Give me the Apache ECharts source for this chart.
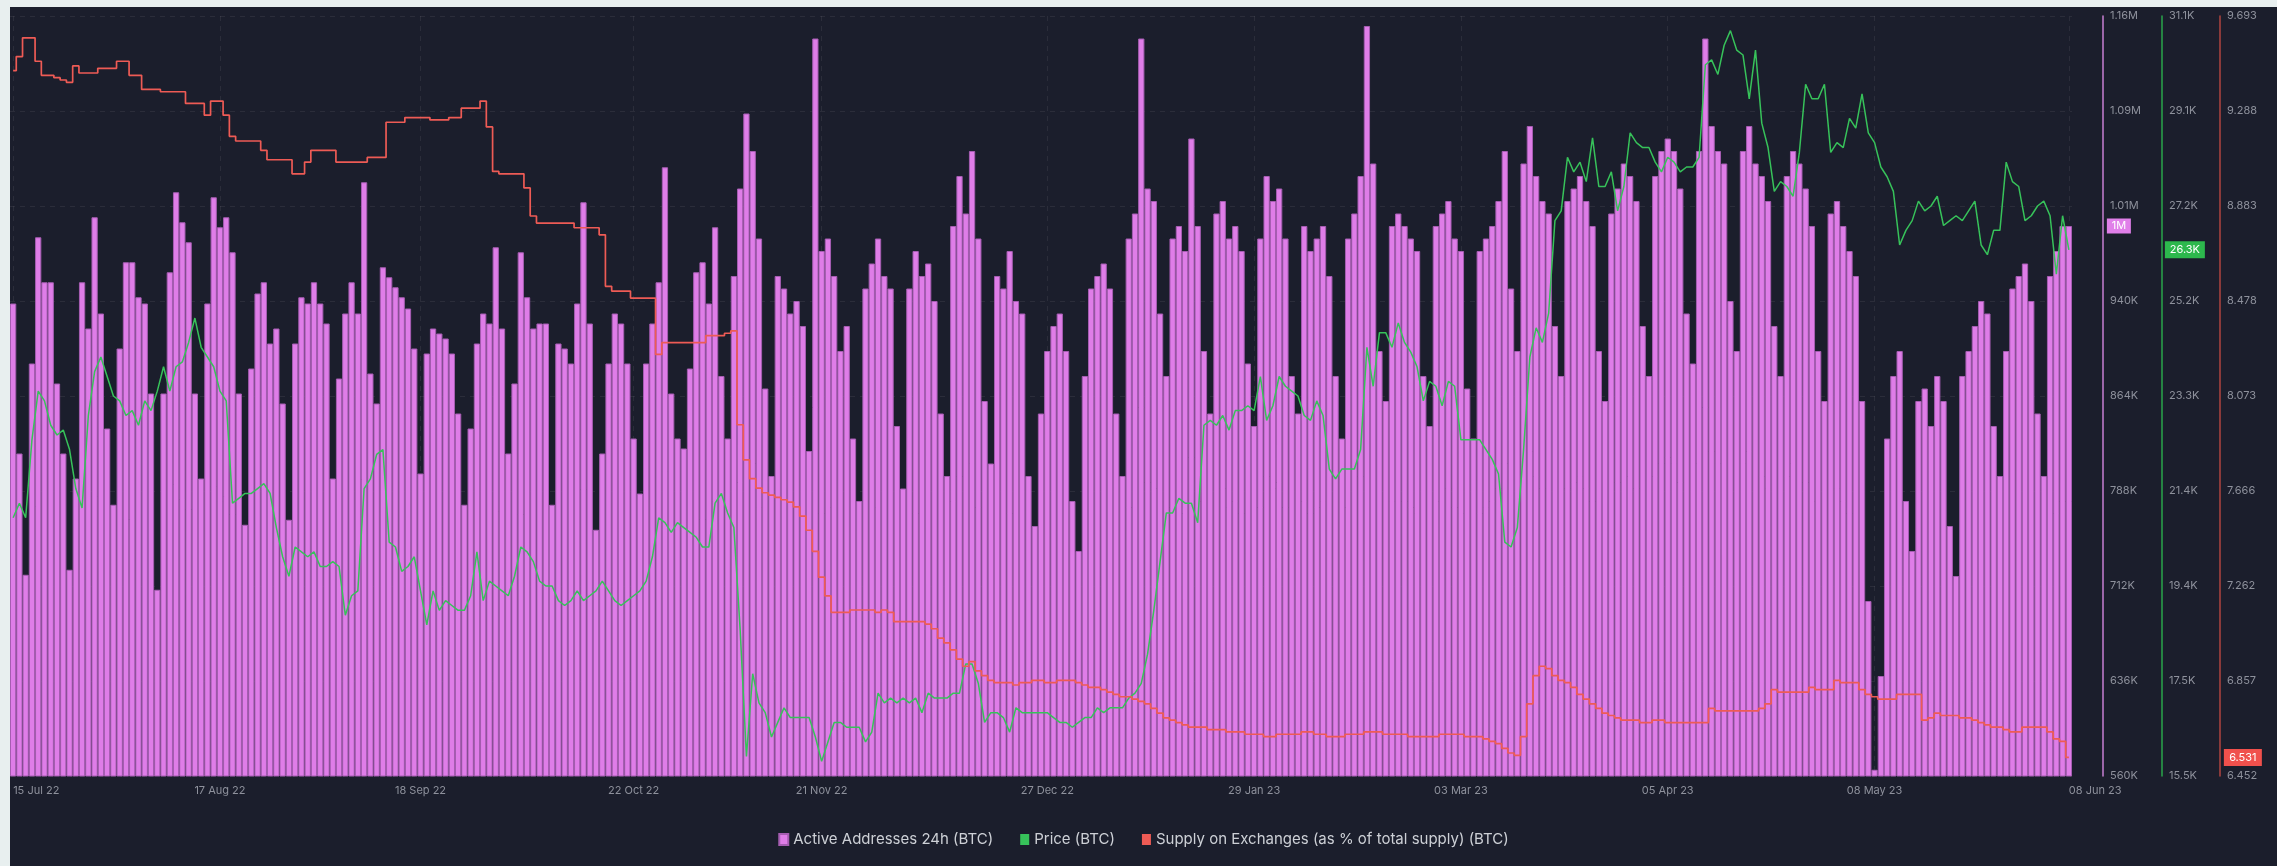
<!DOCTYPE html>
<html><head><meta charset="utf-8">
<script src="https://cdn.jsdelivr.net/npm/echarts@6/dist/echarts.min.js"></script>
<style>
html,body{margin:0;padding:0;width:2277px;height:866px;background:#e8efef;overflow:hidden;}
#chart{position:absolute;left:10px;top:7px;width:2267px;height:859px;background:#1b1e2c;}
</style></head><body><div id="chart"></div>
<script>
// Active Addresses 24h (thousands), one per day from 15 Jul 22 to 08 Jun 23
const activeAddressesK = [
938,818,721,890,991,955,955,874,818,725,
798,955,918,1007,930,838,777,902,971,971,
943,938,866,709,866,963,1027,1003,987,866,
798,938,1023,999,1007,979,866,761,886,946,
955,906,918,858,765,906,943,938,955,938,
922,798,878,930,955,930,1035,882,858,967,
959,951,943,934,902,802,898,918,914,910,
898,850,777,838,906,930,922,983,918,818,
874,979,943,918,922,922,777,906,902,890,
938,1019,922,757,818,890,930,922,890,830,
786,890,922,955,1047,866,830,822,886,963,
971,938,999,880,830,960,1030,1090,1060,990,
870,800,960,950,930,940,920,820,1150,980,
990,960,900,920,830,780,950,970,990,960,
950,840,790,950,980,960,970,940,850,800,
1000,1040,1010,1060,990,860,810,960,950,980,
940,930,800,760,850,900,920,930,900,780,
740,880,950,960,970,950,850,800,990,1010,
1150,1030,1020,930,880,990,1000,980,1070,1000,
900,850,1010,1020,990,1000,980,890,840,990,
1040,1020,1030,990,880,850,1000,980,990,1000,
960,880,830,990,1010,1040,1160,1050,900,860,
1000,1010,1000,990,980,880,840,1000,1010,1020,
990,980,870,830,980,990,1000,1020,1060,950,
900,1050,1080,1040,1020,1010,920,880,1020,1030,
1040,1020,1000,900,860,1010,1030,1050,1040,1020,
920,880,1040,1060,1070,1060,1030,930,890,1060,
1150,1080,1060,1050,940,900,1060,1080,1050,1040,
1020,920,880,1040,1060,1050,1030,1000,900,860,
1010,1020,1000,980,960,860,700,565,640,830,
880,900,780,740,860,870,840,880,860,760,
720,880,900,920,940,930,840,800,900,950,
960,970,940,850,800,960,980,1000,1000
];
// Price (thousands USD)
const priceK = [
20.8,21.1,20.8,22.4,23.4,23.2,22.7,22.5,22.6,22.2,
21.4,21.0,22.9,23.8,24.1,23.7,23.3,23.2,22.9,23.0,
22.7,23.2,23.0,23.4,23.9,23.4,23.9,24.0,24.4,24.9,
24.3,24.1,23.9,23.4,23.2,21.1,21.2,21.3,21.3,21.4,
21.5,21.3,20.6,20.0,19.6,20.2,20.1,20.0,20.1,19.8,
19.8,19.9,19.8,18.8,19.2,19.3,21.4,21.6,22.1,22.2,
20.3,20.2,19.7,19.8,20.0,19.3,18.6,19.3,18.9,19.1,
19.0,18.9,18.9,19.2,20.1,19.1,19.5,19.4,19.3,19.2,
19.6,20.2,20.1,19.9,19.5,19.4,19.4,19.1,19.0,19.1,
19.3,19.1,19.2,19.3,19.5,19.3,19.1,19.0,19.1,19.2,
19.3,19.5,20.0,20.8,20.7,20.5,20.7,20.6,20.5,20.4,
20.2,20.2,21.1,21.3,20.9,20.6,18.5,15.9,17.6,17.0,
16.8,16.3,16.6,16.9,16.7,16.7,16.7,16.7,16.3,15.8,
16.2,16.6,16.6,16.5,16.5,16.5,16.2,16.4,17.2,17.0,
17.1,17.0,17.1,17.0,17.1,16.8,17.2,17.1,17.1,17.1,
17.2,17.2,17.8,17.8,17.4,16.6,16.8,16.8,16.7,16.4,
16.9,16.8,16.8,16.8,16.8,16.8,16.7,16.6,16.6,16.5,
16.6,16.7,16.7,16.9,16.8,16.9,16.9,16.9,17.1,17.2,
17.4,18.0,18.9,19.9,20.9,20.9,21.2,21.1,21.1,20.7,
22.7,22.8,22.7,22.9,22.6,23.0,23.0,23.1,23.0,23.7,
22.8,23.1,23.7,23.5,23.4,23.3,22.9,22.8,23.2,22.9,
21.8,21.6,21.8,21.8,21.8,22.2,24.3,23.5,24.6,24.6,
24.3,24.8,24.4,24.2,23.9,23.2,23.6,23.5,23.1,23.6,
23.5,22.4,22.4,22.4,22.4,22.2,22.0,21.7,20.3,20.2,
20.6,22.2,24.1,24.7,24.4,25.0,26.9,27.1,28.2,27.9,
28.1,27.7,28.6,27.6,27.6,27.9,27.1,27.6,28.7,28.5,
28.4,28.4,28.1,27.9,28.2,28.1,27.9,28.0,28.0,28.2,
30.1,30.2,29.9,30.5,30.8,30.4,30.3,29.4,30.4,28.9,
28.4,27.5,27.7,27.6,27.4,28.3,29.7,29.4,29.4,29.7,
28.3,28.5,28.4,29.0,28.8,29.5,28.7,28.5,28.0,27.8,
27.5,26.4,26.7,26.9,27.3,27.1,27.2,27.4,26.8,26.9,
27.0,26.9,27.1,27.3,26.4,26.2,26.7,26.7,28.1,27.7,
27.6,26.9,27.0,27.2,27.3,27.0,25.8,27.0,26.3
];
// Supply on Exchanges (% of total supply)
const supplyPct = [
9.46,9.52,9.60,9.60,9.50,9.44,9.44,9.43,9.42,9.41,
9.48,9.45,9.45,9.45,9.47,9.47,9.47,9.50,9.50,9.44,
9.44,9.38,9.38,9.38,9.37,9.37,9.37,9.37,9.32,9.32,
9.32,9.27,9.33,9.33,9.27,9.18,9.16,9.16,9.16,9.16,
9.12,9.08,9.08,9.08,9.08,9.02,9.02,9.07,9.12,9.12,
9.12,9.12,9.07,9.07,9.07,9.07,9.07,9.09,9.09,9.09,
9.24,9.24,9.24,9.26,9.26,9.26,9.26,9.25,9.25,9.25,
9.26,9.26,9.30,9.30,9.30,9.33,9.22,9.03,9.02,9.02,
9.02,9.02,8.96,8.84,8.81,8.81,8.81,8.81,8.81,8.81,
8.79,8.79,8.79,8.79,8.76,8.54,8.52,8.52,8.52,8.49,
8.49,8.49,8.49,8.25,8.30,8.30,8.30,8.30,8.30,8.30,
8.30,8.33,8.33,8.33,8.34,8.35,7.95,7.80,7.72,7.68,
7.66,7.65,7.64,7.63,7.62,7.60,7.56,7.50,7.41,7.30,
7.22,7.15,7.15,7.15,7.16,7.16,7.16,7.16,7.15,7.16,
7.15,7.11,7.11,7.11,7.11,7.11,7.10,7.08,7.04,7.02,
6.99,6.95,6.92,6.94,6.90,6.88,6.86,6.85,6.85,6.85,
6.84,6.85,6.85,6.86,6.86,6.85,6.85,6.86,6.86,6.86,
6.85,6.84,6.83,6.83,6.82,6.81,6.80,6.79,6.79,6.78,
6.77,6.76,6.74,6.72,6.70,6.69,6.68,6.67,6.66,6.66,
6.66,6.65,6.65,6.65,6.64,6.64,6.64,6.63,6.63,6.63,
6.62,6.62,6.63,6.63,6.63,6.63,6.64,6.64,6.63,6.63,
6.62,6.62,6.62,6.63,6.63,6.63,6.64,6.64,6.64,6.63,
6.63,6.63,6.63,6.62,6.62,6.62,6.62,6.62,6.63,6.63,
6.63,6.63,6.62,6.62,6.62,6.61,6.60,6.59,6.57,6.55,
6.54,6.62,6.76,6.88,6.92,6.91,6.88,6.86,6.85,6.83,
6.80,6.78,6.76,6.74,6.72,6.71,6.70,6.69,6.69,6.69,
6.68,6.68,6.69,6.69,6.68,6.68,6.68,6.68,6.68,6.68,
6.68,6.74,6.73,6.73,6.73,6.73,6.73,6.73,6.73,6.74,
6.76,6.82,6.81,6.81,6.81,6.81,6.81,6.83,6.82,6.82,
6.82,6.86,6.85,6.85,6.85,6.82,6.80,6.79,6.78,6.78,
6.78,6.80,6.80,6.80,6.80,6.69,6.70,6.72,6.71,6.71,
6.71,6.70,6.70,6.69,6.68,6.67,6.66,6.66,6.65,6.64,
6.64,6.66,6.66,6.66,6.66,6.64,6.61,6.60,6.531
];
const xTickLabels = ['15 Jul 22','17 Aug 22','18 Sep 22','22 Oct 22','21 Nov 22','27 Dec 22','29 Jan 23','03 Mar 23','05 Apr 23','08 May 23','08 Jun 23'];
const activeTickLabels = ['560K','636K','712K','788K','864K','940K','1.01M','1.09M','1.16M'];
const priceTickLabels = ['15.5K','17.5K','19.4K','21.4K','23.3K','25.2K','27.2K','29.1K','31.1K'];
const supplyTickLabels = ['6.452','6.857','7.262','7.666','8.073','8.478','8.883','9.288','9.693'];
const seriesNames = ['Active Addresses 24h (BTC)','Price (BTC)','Supply on Exchanges (as % of total supply) (BTC)'];

const monthNames = ['Jan','Feb','Mar','Apr','May','Jun','Jul','Aug','Sep','Oct','Nov','Dec'];
const startMs = Date.UTC(2022, 6, 15);
const dates = activeAddressesK.map((_, i) => {
  const d = new Date(startMs + i * 86400000);
  return String(d.getUTCDate()).padStart(2, '0') + ' ' + monthNames[d.getUTCMonth()] + ' ' + String(d.getUTCFullYear()).slice(2);
});
const last = dates.length - 1;
const isTick = (i, v) => xTickLabels.indexOf(v) >= 0;

const FONT = 'Inter, "Noto Sans", "DejaVu Sans", sans-serif';
const C_PINK = '#df7de8', C_GREEN = '#37c25a', C_RED = '#ee5b55';
const axisText = { color: '#8e919c', fontSize: 11, fontFamily: FONT };

const chart = echarts.init(document.getElementById('chart'), null, { renderer: 'canvas' });
chart.setOption({
  animation: false,
  backgroundColor: '#1b1e2c',
  grid: { left: 0, right: 205, top: 9, bottom: 90, containLabel: false },
  legend: {
    data: seriesNames.map((n, i) => ({ name: n, itemStyle: { color: [C_PINK, C_GREEN, C_RED][i] } })),
    left: 'center', top: 820, icon: 'rect', itemWidth: 9, itemHeight: 11, itemGap: 27,
    textStyle: { color: '#cdd0d6', fontSize: 15, fontFamily: FONT }
  },
  xAxis: {
    type: 'category', data: dates, boundaryGap: true,
    axisLine: { show: false }, axisTick: { show: false },
    axisLabel: Object.assign({ interval: isTick, margin: 9, alignMinLabel: 'left', alignMaxLabel: 'left' }, axisText),
    splitLine: { show: true, interval: isTick, alignWithLabel: true, lineStyle: { color: 'rgba(255,255,255,0.07)', type: [5, 5] } }
  },
  yAxis: [
    { type: 'value', position: 'right', offset: 31, min: 560, max: 560 + 8 * 76, interval: 76,
      axisLine: { show: true, lineStyle: { color: '#c77fd2', width: 1.5 } }, axisTick: { show: false },
      axisLabel: Object.assign({ margin: 7, formatter: (v, i) => activeTickLabels[i] }, axisText),
      splitLine: { show: true, lineStyle: { color: 'rgba(255,255,255,0.07)', type: [5, 5] } } },
    { type: 'value', position: 'right', offset: 90, min: 15.5, max: 15.5 + 8 * 1.95, interval: 1.95,
      axisLine: { show: true, lineStyle: { color: '#2aa64a', width: 1.5 } }, axisTick: { show: false },
      axisLabel: Object.assign({ margin: 7, formatter: (v, i) => priceTickLabels[i] }, axisText),
      splitLine: { show: false } },
    { type: 'value', position: 'right', offset: 148, min: 6.452, max: 6.452 + 8 * 0.405125, interval: 0.405125,
      axisLine: { show: true, lineStyle: { color: '#b0443f', width: 1.5 } }, axisTick: { show: false },
      axisLabel: Object.assign({ margin: 7, formatter: (v, i) => supplyTickLabels[i] }, axisText),
      splitLine: { show: false } }
  ],
  series: [
    { name: seriesNames[0], type: 'bar', yAxisIndex: 0, data: activeAddressesK,
      barCategoryGap: '0%', z: 1,
      itemStyle: { color: C_PINK, borderColor: '#a65db2', borderWidth: 1 },
      markPoint: { symbol: 'rect', symbolSize: [24, 15], symbolOffset: [50, 0], silent: true,
        itemStyle: { color: '#e07fe9', borderWidth: 0 },
        label: { show: true, position: 'inside', color: '#ffffff', fontSize: 11, fontFamily: FONT,
          formatter: p => (p.value >= 1000 ? (p.value / 1000) + 'M' : p.value + 'K') },
        data: [{ coord: [dates[last], activeAddressesK[last]], value: activeAddressesK[last] }] } },
    { name: seriesNames[1], type: 'line', yAxisIndex: 1, data: priceK, showSymbol: false, z: 3,
      lineStyle: { color: C_GREEN, width: 1.5 }, itemStyle: { color: C_GREEN },
      markPoint: { symbol: 'rect', symbolSize: [40, 17], symbolOffset: [116, 0], silent: true,
        itemStyle: { color: '#2db84d' },
        label: { show: true, position: 'inside', color: '#ffffff', fontSize: 11, fontFamily: FONT,
          formatter: p => p.value + 'K' },
        data: [{ coord: [dates[last], priceK[last]], value: priceK[last] }] } },
    { name: seriesNames[2], type: 'line', yAxisIndex: 2, data: supplyPct, showSymbol: false, step: 'middle', z: 4,
      lineStyle: { color: C_RED, width: 1.7 }, itemStyle: { color: C_RED },
      markPoint: { symbol: 'rect', symbolSize: [38, 17], symbolOffset: [174, 0], silent: true,
        itemStyle: { color: '#f0504c' },
        label: { show: true, position: 'inside', color: '#ffffff', fontSize: 11, fontFamily: FONT,
          formatter: p => String(p.value) },
        data: [{ coord: [dates[last], supplyPct[last]], value: supplyPct[last] }] } }
  ]
});
</script></body></html>
